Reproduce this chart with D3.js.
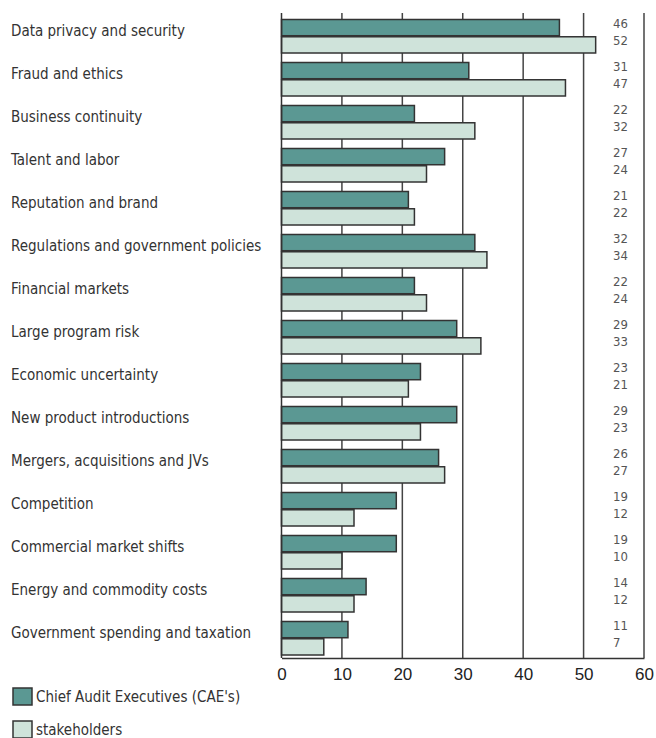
<!DOCTYPE html>
<html>
<head>
<meta charset="utf-8">
<script src="https://cdn.jsdelivr.net/npm/d3@7"></script>
<style>
  body { margin: 0; background: #fff; }
  .cat { font-family: "DejaVu Sans", sans-serif; font-stretch: condensed; font-size: 15px; fill: #333; }
  .val { font-family: "DejaVu Sans", sans-serif; font-stretch: condensed; font-size: 13px; fill: #555; }
  .tick text { font-family: "Liberation Sans", Arial, sans-serif; font-size: 17px; fill: #222; }
</style>
</head>
<body>
<svg width="656" height="738"></svg>
<script>
// CAE vs stakeholders risk ranking

var categories = ["Data privacy and security", "Fraud and ethics", "Business continuity", "Talent and labor",
  "Reputation and brand", "Regulations and government policies", "Financial markets", "Large program risk",
  "Economic uncertainty", "New product introductions", "Mergers, acquisitions and JVs", "Competition",
  "Commercial market shifts", "Energy and commodity costs", "Government spending and taxation"];
var cae = [46, 31, 22, 27, 21, 32, 22, 29, 23, 29, 26, 19, 19, 14, 11];
var stakeholders = [52, 47, 32, 24, 22, 34, 24, 33, 21, 23, 27, 12, 10, 12, 7];
var seriesNames = ["Chief Audit Executives (CAE's)", "stakeholders"];
var ticks = [0, 10, 20, 30, 40, 50, 60];

var colors = ["#5b9893", "#cfe3da"];

var svg = d3.select("svg"),
    plotLeft = 281.5, plotRight = 644, plotTop = 13, plotBottom = 658;

var x = d3.scaleLinear().domain([0, 60]).range([plotLeft, plotRight]);
var y = d3.scaleBand().domain(categories).range([plotTop, plotBottom]);
var inner = d3.scaleBand().domain([0, 1]).range([6.5, 40]).paddingInner(0.06);

var data = categories.map(function(c, i) { return {cat: c, vals: [cae[i], stakeholders[i]]}; });

// grid lines
svg.append("g").selectAll("line")
  .data(ticks.slice(1))
  .enter().append("line")
    .attr("x1", function(d) { return x(d); })
    .attr("x2", function(d) { return x(d); })
    .attr("y1", plotTop)
    .attr("y2", plotBottom)
    .attr("stroke", "#444")
    .attr("stroke-width", 1.5);

var rows = svg.append("g").selectAll("g")
  .data(data)
  .enter().append("g")
    .attr("transform", function(d) { return "translate(0," + y(d.cat) + ")"; });

rows.selectAll("rect")
  .data(function(d) { return d.vals; })
  .enter().append("rect")
    .attr("x", x(0))
    .attr("y", function(d, i) { return inner(i); })
    .attr("width", function(d) { return x(d) - x(0); })
    .attr("height", inner.bandwidth())
    .attr("fill", function(d, i) { return colors[i]; })
    .attr("stroke", "#333")
    .attr("stroke-width", 1.5);

rows.selectAll(".val")
  .data(function(d) { return d.vals; })
  .enter().append("text")
    .attr("class", "val")
    .attr("x", 613)
    .attr("y", function(d, i) { return inner(i) + inner.bandwidth() / 2 - 4; })
    .attr("dy", "0.35em")
    .text(function(d) { return d; });

rows.append("text")
  .attr("class", "cat")
  .attr("x", 11)
  .attr("y", 18)
  .attr("dy", "0.35em")
  .text(function(d) { return d.cat; });

// axes
svg.append("line")
  .attr("x1", x(0)).attr("x2", x(0))
  .attr("y1", plotTop).attr("y2", plotBottom)
  .attr("stroke", "#333").attr("stroke-width", 1.5);

var axis = svg.append("g")
  .attr("transform", "translate(0," + plotBottom + ")")
  .call(d3.axisBottom(x).tickValues(ticks).tickSize(0).tickPadding(10));
axis.select(".domain").attr("stroke", "#333").attr("stroke-width", 1.5);

// legend
var legend = svg.append("g").selectAll("g")
  .data(seriesNames)
  .enter().append("g")
    .attr("transform", function(d, i) { return "translate(13," + (688 + i * 33) + ")"; });

legend.append("rect")
  .attr("width", 19)
  .attr("height", 17)
  .attr("fill", function(d, i) { return colors[i]; })
  .attr("stroke", "#333")
  .attr("stroke-width", 1.5);

legend.append("text")
  .attr("class", "cat")
  .attr("x", 23)
  .attr("y", 8.5)
  .attr("dy", "0.35em")
  .text(function(d) { return d; });
</script>
</body>
</html>
